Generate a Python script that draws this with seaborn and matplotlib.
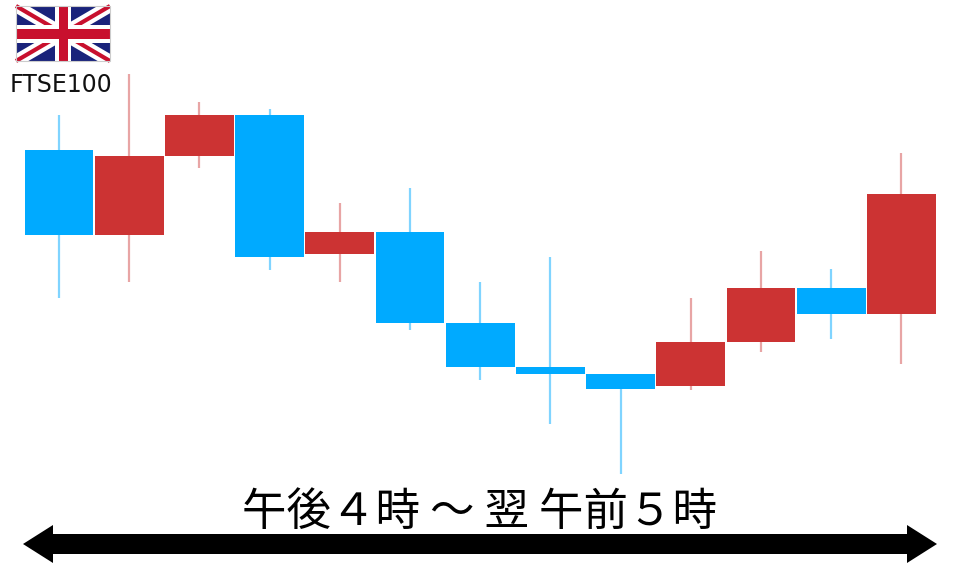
import numpy as np
import pandas as pd
import matplotlib
matplotlib.use("Agg")
import matplotlib.pyplot as plt
from matplotlib.patches import Polygon, Rectangle
import seaborn as sns

# candle values (price scale is arbitrary, no axis is shown)
opens = [417, 332, 411, 452, 313, 335, 244, 200, 193, 181, 225, 279, 253]
closes = [332, 411, 452, 310, 335, 244, 200, 193, 178, 225, 279, 253, 373]
highs = [452, 493, 465, 458, 364, 379, 285, 310, 193, 269, 316, 298, 414]
lows = [269, 285, 399, 297, 285, 237, 187, 143, 93, 177, 215, 228, 203]

BLUE = "#00aaff"
RED = "#cc3333"
BLUE_WICK = "#80d4ff"
RED_WICK = "#e8a5a5"

sns.set_theme(style="white")
plt.rcParams['font.family'] = ['Noto Sans CJK JP', 'DejaVu Sans']

df = pd.DataFrame({"pos": range(len(opens)), "open": opens, "close": closes,
                   "high": highs, "low": lows})
df["bottom"] = df[["open", "close"]].min(axis=1)
df["body"] = (df["close"] - df["open"]).abs()
df["up"] = df["close"] > df["open"]

fig = plt.figure(figsize=(9.6, 5.67), dpi=100)
ax = fig.add_axes([0, 0, 1, 1])

# wicks first, bodies on top
for up, wick in [(False, BLUE_WICK), (True, RED_WICK)]:
    part = df[df["up"] == up]
    ax.vlines(part["pos"], part["low"], part["high"], color=wick, lw=1.6, zorder=1)

for up, body in [(False, BLUE), (True, RED)]:
    part = df[df["up"] == up]
    sns.barplot(data=part, x="pos", y="body", bottom=part["bottom"].values,
                native_scale=True, width=0.98, color=body, saturation=1,
                linewidth=0, errorbar=None, ax=ax, zorder=2)

# one step is 70.2 px, first candle centre at px 59
ax.set_xlim(-59 / 70.2, (960 - 59) / 70.2)
ax.set_ylim(0, 567)
ax.axis("off")

# overlay in pixel coordinates for the flag, label and arrow
over = fig.add_axes([0, 0, 1, 1], facecolor="none")
over.set_xlim(0, 960)
over.set_ylim(567, 0)
over.axis("off")

# union jack
fx0, fx1, fy0, fy1 = 16, 110, 6, 61
clip = Rectangle((fx0, fy0), fx1 - fx0, fy1 - fy0, transform=over.transData)
over.add_patch(Rectangle((fx0, fy0), fx1 - fx0, fy1 - fy0, color="#1a237b", lw=0, zorder=1))
for a, b in [((fx0, fy0), (fx1, fy1)), ((fx0, fy1), (fx1, fy0))]:
    over.plot([a[0], b[0]], [a[1], b[1]], color="white", lw=9, clip_path=clip,
              solid_capstyle="butt", zorder=2)
    over.plot([a[0], b[0]], [a[1], b[1]], color="#c8102e", lw=3, clip_path=clip,
              solid_capstyle="butt", zorder=3)
fxm, fym = (fx0 + fx1) / 2, (fy0 + fy1) / 2
over.add_patch(Rectangle((fxm - 8, fy0), 16, fy1 - fy0, color="white", lw=0, zorder=4))
over.add_patch(Rectangle((fx0, fym - 9), fx1 - fx0, 18, color="white", lw=0, zorder=4))
over.add_patch(Rectangle((fxm - 4.5, fy0), 9, fy1 - fy0, color="#c8102e", lw=0, zorder=5))
over.add_patch(Rectangle((fx0, fym - 5), fx1 - fx0, 10, color="#c8102e", lw=0, zorder=5))
over.add_patch(Rectangle((fx0, fy0), fx1 - fx0, fy1 - fy0, fill=False,
                         edgecolor="#cccccc", lw=0.8, zorder=6))

over.text(61, 85, "FTSE100", ha="center", va="center", fontsize=17,
          family="DejaVu Sans", color="#111111")
over.text(480, 512, "午後４時 ～ 翌 午前５時", ha="center", va="center",
          fontsize=32, color="black")

# double headed arrow
over.add_patch(Polygon([(23, 544), (53, 525), (53, 534), (907, 534), (907, 525),
                        (937, 544), (907, 563), (907, 554), (53, 554), (53, 563)],
                       closed=True, color="black", lw=0))

fig.savefig("out.png", dpi=100)
